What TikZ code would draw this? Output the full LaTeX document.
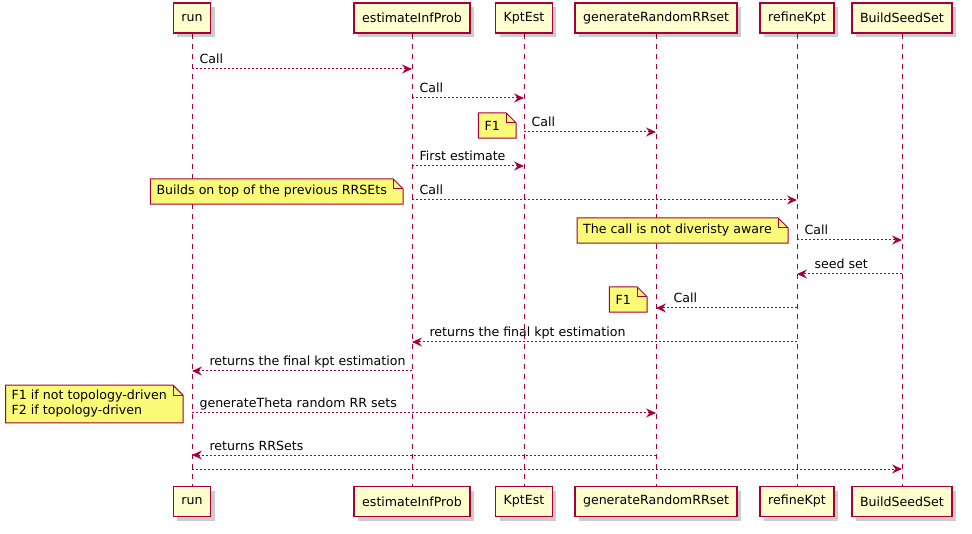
\documentclass[tikz,border=0pt]{standalone}
\usepackage{fontspec}
\setmainfont{DejaVu Sans}
\usepackage{tikz}
\usetikzlibrary{arrows.meta,shadows,positioning}
\definecolor{umlred}{HTML}{A80036}
\definecolor{partfill}{HTML}{FEFECE}
\definecolor{notefill}{HTML}{FBFB77}
\pgfdeclarelayer{lifelines}
\pgfdeclarelayer{notebg}
\pgfsetlayers{lifelines,notebg,main}
\newcommand{\umlfont}{\fontsize{12.6}{15}\selectfont}
\tikzstyle{part}=[draw=umlred, fill=partfill, line width=1.5pt, minimum height=30pt, inner xsep=8pt, inner ysep=0pt, font=\umlfont, drop shadow={shadow xshift=4pt, shadow yshift=-4pt, fill=black, opacity=0.2}]
\tikzstyle{life}=[draw=umlred, line width=1pt, dash pattern=on 5pt off 5pt]
\tikzstyle{msg}=[draw=umlred, line width=1pt, dash pattern=on 2pt off 2pt, -{Stealth[length=10pt,width=9pt,inset=3.5pt]}]
\tikzstyle{lbl}=[font=\umlfont, inner sep=0pt, anchor=base west, yshift=5pt]
\tikzstyle{note}=[font=\umlfont, inner xsep=6pt, inner ysep=5pt, minimum height=25pt, align=left, anchor=east]
% folded note outline round a note node
\newcommand{\notefold}[1]{%
  \begin{pgfonlayer}{notebg}
    \fill[black, opacity=0.2, xshift=4pt, yshift=-4pt] (#1.south west) -- (#1.north west) -- (#1.north east) -- ([xshift=10pt,yshift=-10pt]#1.north east) -- ([xshift=10pt]#1.south east) -- cycle;
    \filldraw[fill=notefill, draw=umlred, line width=1pt] (#1.south west) -- (#1.north west) -- (#1.north east) -- ([xshift=10pt,yshift=-10pt]#1.north east) -- ([xshift=10pt]#1.south east) -- cycle;
    \draw[umlred, line width=1pt] (#1.north east) -- ([yshift=-10pt]#1.north east) -- ([xshift=10pt,yshift=-10pt]#1.north east);
  \end{pgfonlayer}}

\begin{document}
\begin{tikzpicture}[x=1pt, y=-1pt]
  \useasboundingbox (0,0) rectangle (972,534);
  % participants
  \node(run) [part] at (192, 18){run};
  \node(est) [part] at (412, 18){estimateInfProb};
  \node(kpt) [part] at (524, 18){KptEst};
  \node(gen) [part] at (656, 18){generateRandomRRset};
  \node(ref) [part] at (797, 18){refineKpt};
  \node(bss) [part] at (902, 18){BuildSeedSet};
  \node(runB) [part] at (192, 501.5){run};
  \node(estB) [part] at (412, 501.5){estimateInfProb};
  \node(kptB) [part] at (524, 501.5){KptEst};
  \node(genB) [part] at (656, 501.5){generateRandomRRset};
  \node(refB) [part] at (797, 501.5){refineKpt};
  \node(bssB) [part] at (902, 501.5){BuildSeedSet};
  \begin{pgfonlayer}{lifelines}
    \draw[life] (run) -- (runB);
    \draw[life] (est) -- (estB);
    \draw[life] (kpt) -- (kptB);
    \draw[life] (gen) -- (genB);
    \draw[life] (ref) -- (refB);
    \draw[life] (bss) -- (bssB);
  \end{pgfonlayer}
  % message rows
  \coordinate (m1) at (0, 69);
  \coordinate (m2) at (0, 98);
  \coordinate (m3) at (0, 132);
  \coordinate (m4) at (0, 166);
  \coordinate (m5) at (0, 200);
  \coordinate (m6) at (0, 240);
  \coordinate (m7) at (0, 274);
  \coordinate (m8) at (0, 308);
  \coordinate (m9) at (0, 342);
  \coordinate (m10) at (0, 371);
  \coordinate (m11) at (0, 413);
  \coordinate (m12) at (0, 455);
  \coordinate (m13) at (0, 469);
  \draw[msg] (run |- m1) -- node[lbl, pos=0, xshift=7pt]{Call} (est |- m1);
  \draw[msg] (est |- m2) -- node[lbl, pos=0, xshift=7pt]{Call} (kpt |- m2);
  \draw[msg] (kpt |- m3) -- node[lbl, pos=0, xshift=7pt]{Call} (gen |- m3);
  \draw[msg] (est |- m4) -- node[lbl, pos=0, xshift=7pt]{First estimate} (kpt |- m4);
  \draw[msg] (est |- m5) -- node[lbl, pos=0, xshift=7pt]{Call} (ref |- m5);
  \draw[msg] (ref |- m6) -- node[lbl, pos=0, xshift=7pt]{Call} (bss |- m6);
  \draw[msg] (bss |- m7) -- node[lbl, pos=1, xshift=17pt]{seed set} (ref |- m7);
  \draw[msg] (ref |- m8) -- node[lbl, pos=1, xshift=17pt]{Call} (gen |- m8);
  \draw[msg] (ref |- m9) -- node[lbl, pos=1, xshift=17pt]{returns the final kpt estimation} (est |- m9);
  \draw[msg] (est |- m10) -- node[lbl, pos=1, xshift=17pt]{returns the final kpt estimation} (run |- m10);
  \draw[msg] (run |- m11) -- node[lbl, pos=0, xshift=7pt]{generateTheta random RR sets} (gen |- m11);
  \draw[msg] (gen |- m12) -- node[lbl, pos=1, xshift=17pt]{returns RRSets} (run |- m12);
  \draw[msg] (run |- m13) -- (bss |- m13);
  % notes
  \node(n1) [note] at (506, 125.5){F1};
  \node(n2) [note] at (393, 191.5){Builds on top of the previous RRSEts};
  \node(n3) [note] at (778, 230.5){The call is not diveristy aware};
  \node(n4) [note] at (637, 299.5){F1};
  \node(n5) [note] at (173, 404){F1 if not topology-driven\\F2 if topology-driven};
  \notefold{n1}
  \notefold{n2}
  \notefold{n3}
  \notefold{n4}
  \notefold{n5}
\end{tikzpicture}
\end{document}
